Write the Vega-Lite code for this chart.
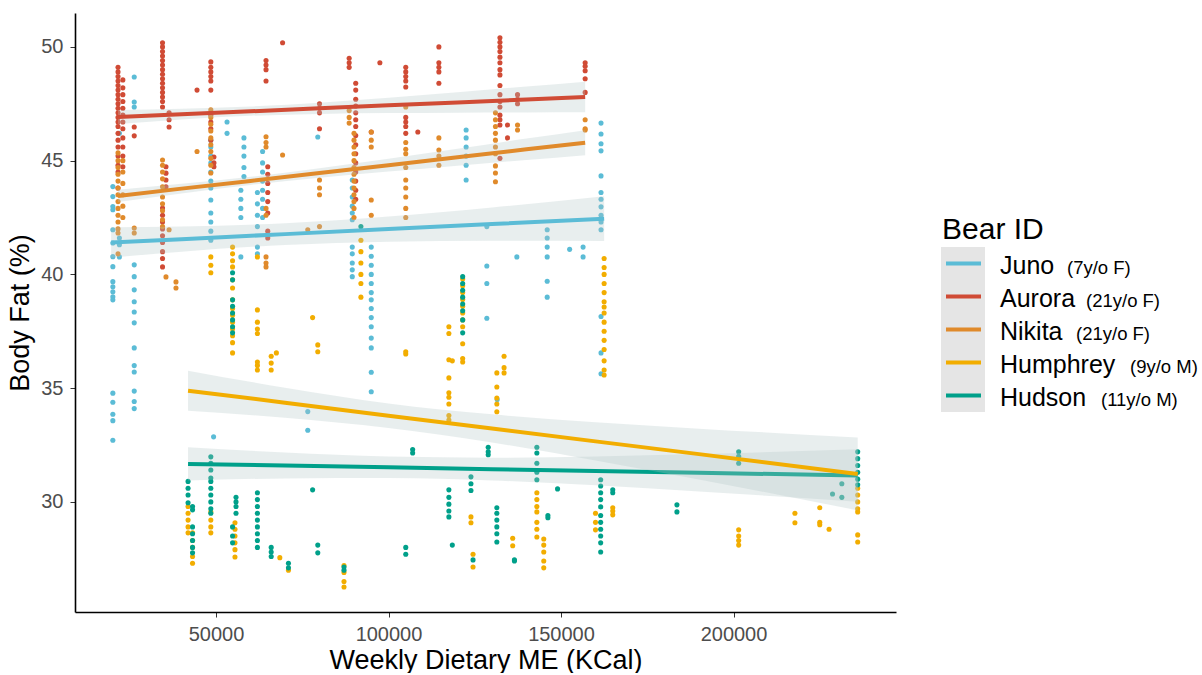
{
"$schema":"https://vega.github.io/schema/vega-lite/v6.json",
"padding":{"left":6,"top":13,"right":0,"bottom":0},
"spacing":45,
"config":{"font":"Liberation Sans","view":{"stroke":null},
 "axis":{"grid":false,"tickSize":5,"tickColor":"#333333","domainColor":"#000000","domainWidth":1.6,"labelFontSize":20,"labelColor":"#4D4D4D","titleFontSize":27,"titleFontWeight":"normal","titleColor":"#000000"}},
"datasets":{
"points":[
{"bear":"Juno","me":20100,"fat":43.86},{"bear":"Juno","me":20100,"fat":43.42},{"bear":"Juno","me":20100,"fat":42.98},{"bear":"Juno","me":20100,"fat":42.84},{"bear":"Juno","me":20100,"fat":41.96},{"bear":"Juno","me":20100,"fat":41.38},{"bear":"Juno","me":20100,"fat":40.78},{"bear":"Juno","me":20100,"fat":40.34},{"bear":"Juno","me":20100,"fat":39.68},{"bear":"Juno","me":20100,"fat":39.46},{"bear":"Juno","me":20100,"fat":39.24},{"bear":"Juno","me":20100,"fat":39.02},{"bear":"Juno","me":20100,"fat":38.88},{"bear":"Juno","me":20100,"fat":34.78},{"bear":"Juno","me":20100,"fat":34.38},{"bear":"Juno","me":20100,"fat":33.85},{"bear":"Juno","me":20100,"fat":33.57},{"bear":"Juno","me":20100,"fat":32.71},
{"bear":"Juno","me":22000,"fat":46.2},{"bear":"Juno","me":22000,"fat":41.6},{"bear":"Juno","me":22000,"fat":41.3},{"bear":"Juno","me":22000,"fat":40.77},
{"bear":"Juno","me":26300,"fat":48.68},{"bear":"Juno","me":26300,"fat":47.58},{"bear":"Juno","me":26300,"fat":47.36},{"bear":"Juno","me":26300,"fat":40.42},{"bear":"Juno","me":26300,"fat":39.9},{"bear":"Juno","me":26300,"fat":39.32},{"bear":"Juno","me":26300,"fat":38.8},{"bear":"Juno","me":26300,"fat":38.35},{"bear":"Juno","me":26300,"fat":37.87},{"bear":"Juno","me":26300,"fat":36.77},{"bear":"Juno","me":26300,"fat":35.99},{"bear":"Juno","me":26300,"fat":35.71},{"bear":"Juno","me":26300,"fat":34.87},{"bear":"Juno","me":26300,"fat":34.41},{"bear":"Juno","me":26300,"fat":34.1},
{"bear":"Juno","me":48500,"fat":45.9},{"bear":"Juno","me":48500,"fat":45.6},{"bear":"Juno","me":48500,"fat":45.2},{"bear":"Juno","me":48500,"fat":44.9},{"bear":"Juno","me":48500,"fat":44.5},{"bear":"Juno","me":48500,"fat":44.1},{"bear":"Juno","me":48500,"fat":43.8},{"bear":"Juno","me":48500,"fat":43.27},{"bear":"Juno","me":48500,"fat":42.7},{"bear":"Juno","me":48500,"fat":42.3},{"bear":"Juno","me":48500,"fat":41.9},{"bear":"Juno","me":48500,"fat":41.5},
{"bear":"Juno","me":49300,"fat":32.86},{"bear":"Juno","me":53200,"fat":46.7},{"bear":"Juno","me":53200,"fat":46.2},
{"bear":"Juno","me":57200,"fat":43.7},{"bear":"Juno","me":57200,"fat":43.3},{"bear":"Juno","me":57200,"fat":42.9},{"bear":"Juno","me":57200,"fat":42.5},{"bear":"Juno","me":57200,"fat":40.77},
{"bear":"Juno","me":58100,"fat":46.0},{"bear":"Juno","me":58100,"fat":45.6},{"bear":"Juno","me":58100,"fat":45.2},{"bear":"Juno","me":58100,"fat":44.7},{"bear":"Juno","me":58100,"fat":44.3},
{"bear":"Juno","me":62000,"fat":43.6},{"bear":"Juno","me":62000,"fat":43.1},{"bear":"Juno","me":62000,"fat":42.6},{"bear":"Juno","me":62000,"fat":42.1},{"bear":"Juno","me":62000,"fat":41.2},{"bear":"Juno","me":62000,"fat":40.9},
{"bear":"Juno","me":63500,"fat":45.4},{"bear":"Juno","me":63500,"fat":44.9},{"bear":"Juno","me":63500,"fat":44.5},{"bear":"Juno","me":63500,"fat":44.1},{"bear":"Juno","me":63500,"fat":43.7},{"bear":"Juno","me":63500,"fat":43.3},{"bear":"Juno","me":63500,"fat":42.9},{"bear":"Juno","me":63500,"fat":42.5},
{"bear":"Juno","me":76600,"fat":33.97},{"bear":"Juno","me":76600,"fat":33.15},{"bear":"Juno","me":79500,"fat":46.04},
{"bear":"Juno","me":89500,"fat":44.15},{"bear":"Juno","me":89500,"fat":43.8},{"bear":"Juno","me":89500,"fat":43.4},{"bear":"Juno","me":89500,"fat":43.0},{"bear":"Juno","me":89500,"fat":42.7},{"bear":"Juno","me":89500,"fat":42.4},{"bear":"Juno","me":89500,"fat":41.2},{"bear":"Juno","me":89500,"fat":40.9},{"bear":"Juno","me":89500,"fat":40.5},{"bear":"Juno","me":89500,"fat":40.2},{"bear":"Juno","me":89500,"fat":39.9},
{"bear":"Juno","me":95000,"fat":41.2},{"bear":"Juno","me":95000,"fat":40.8},{"bear":"Juno","me":95000,"fat":40.4},{"bear":"Juno","me":95000,"fat":40.0},{"bear":"Juno","me":95000,"fat":39.6},{"bear":"Juno","me":95000,"fat":39.2},{"bear":"Juno","me":95000,"fat":38.88},{"bear":"Juno","me":95000,"fat":38.5},{"bear":"Juno","me":95000,"fat":38.1},{"bear":"Juno","me":95000,"fat":37.7},{"bear":"Juno","me":95000,"fat":37.2},{"bear":"Juno","me":95000,"fat":36.77},{"bear":"Juno","me":95000,"fat":35.7},{"bear":"Juno","me":95000,"fat":34.84},
{"bear":"Juno","me":122500,"fat":46.35},{"bear":"Juno","me":122500,"fat":46.0},{"bear":"Juno","me":122500,"fat":45.6},{"bear":"Juno","me":122500,"fat":45.2},{"bear":"Juno","me":122500,"fat":44.8},{"bear":"Juno","me":122500,"fat":44.15},
{"bear":"Juno","me":128500,"fat":42.1},{"bear":"Juno","me":128500,"fat":40.37},{"bear":"Juno","me":128500,"fat":39.6},{"bear":"Juno","me":128500,"fat":38.07},
{"bear":"Juno","me":131500,"fat":34.5},{"bear":"Juno","me":137200,"fat":40.77},
{"bear":"Juno","me":146000,"fat":41.96},{"bear":"Juno","me":146000,"fat":41.6},{"bear":"Juno","me":146000,"fat":41.2},{"bear":"Juno","me":146000,"fat":40.77},{"bear":"Juno","me":146000,"fat":39.7},{"bear":"Juno","me":146000,"fat":39.0},
{"bear":"Juno","me":152500,"fat":41.1},{"bear":"Juno","me":156400,"fat":41.2},{"bear":"Juno","me":156400,"fat":40.77},
{"bear":"Juno","me":161600,"fat":46.65},{"bear":"Juno","me":161600,"fat":46.17},{"bear":"Juno","me":161600,"fat":45.74},{"bear":"Juno","me":161600,"fat":45.43},{"bear":"Juno","me":161600,"fat":44.33},{"bear":"Juno","me":161600,"fat":43.6},{"bear":"Juno","me":161600,"fat":43.3},{"bear":"Juno","me":161600,"fat":42.97},{"bear":"Juno","me":161600,"fat":42.6},{"bear":"Juno","me":161600,"fat":42.3},{"bear":"Juno","me":161600,"fat":41.96},{"bear":"Juno","me":161600,"fat":38.15},{"bear":"Juno","me":161600,"fat":36.55},{"bear":"Juno","me":161600,"fat":35.63},
{"bear":"Aurora","me":21600,"fat":49.1},{"bear":"Aurora","me":21600,"fat":48.9},{"bear":"Aurora","me":21600,"fat":48.7},{"bear":"Aurora","me":21600,"fat":48.5},{"bear":"Aurora","me":21600,"fat":48.3},{"bear":"Aurora","me":21600,"fat":48.1},{"bear":"Aurora","me":21600,"fat":47.9},{"bear":"Aurora","me":21600,"fat":47.7},{"bear":"Aurora","me":21600,"fat":47.5},{"bear":"Aurora","me":21600,"fat":47.3},{"bear":"Aurora","me":21600,"fat":47.1},{"bear":"Aurora","me":21600,"fat":46.9},{"bear":"Aurora","me":21600,"fat":46.7},{"bear":"Aurora","me":21600,"fat":46.5},{"bear":"Aurora","me":21600,"fat":46.2},{"bear":"Aurora","me":21600,"fat":45.9},{"bear":"Aurora","me":21600,"fat":45.6},{"bear":"Aurora","me":21600,"fat":45.2},{"bear":"Aurora","me":21600,"fat":44.8},{"bear":"Aurora","me":21600,"fat":44.5},{"bear":"Aurora","me":21600,"fat":43.8},
{"bear":"Aurora","me":23000,"fat":48.55},{"bear":"Aurora","me":23000,"fat":48.2},{"bear":"Aurora","me":23000,"fat":47.9},{"bear":"Aurora","me":23000,"fat":47.6},{"bear":"Aurora","me":23000,"fat":47.3},{"bear":"Aurora","me":23000,"fat":47.0},{"bear":"Aurora","me":23000,"fat":46.7},{"bear":"Aurora","me":23000,"fat":46.4},{"bear":"Aurora","me":23000,"fat":46.0},{"bear":"Aurora","me":23000,"fat":45.6},{"bear":"Aurora","me":23000,"fat":45.2},{"bear":"Aurora","me":23000,"fat":44.73},
{"bear":"Aurora","me":26300,"fat":46.48},{"bear":"Aurora","me":26300,"fat":46.09},
{"bear":"Aurora","me":34500,"fat":50.18},{"bear":"Aurora","me":34500,"fat":50.0},{"bear":"Aurora","me":34500,"fat":49.8},{"bear":"Aurora","me":34500,"fat":49.6},{"bear":"Aurora","me":34500,"fat":49.4},{"bear":"Aurora","me":34500,"fat":49.2},{"bear":"Aurora","me":34500,"fat":49.0},{"bear":"Aurora","me":34500,"fat":48.8},{"bear":"Aurora","me":34500,"fat":48.6},{"bear":"Aurora","me":34500,"fat":48.4},{"bear":"Aurora","me":34500,"fat":48.2},{"bear":"Aurora","me":34500,"fat":48.0},{"bear":"Aurora","me":34500,"fat":47.8},{"bear":"Aurora","me":34500,"fat":47.6},{"bear":"Aurora","me":34500,"fat":47.36},{"bear":"Aurora","me":34500,"fat":42.92},{"bear":"Aurora","me":34500,"fat":42.6},{"bear":"Aurora","me":34500,"fat":42.3},{"bear":"Aurora","me":34500,"fat":42.0},{"bear":"Aurora","me":34500,"fat":41.7},{"bear":"Aurora","me":34500,"fat":41.4},{"bear":"Aurora","me":34500,"fat":41.0},{"bear":"Aurora","me":34500,"fat":40.7},{"bear":"Aurora","me":34500,"fat":40.33},
{"bear":"Aurora","me":35500,"fat":44.73},{"bear":"Aurora","me":35500,"fat":44.45},{"bear":"Aurora","me":35500,"fat":44.15},{"bear":"Aurora","me":35500,"fat":43.85},
{"bear":"Aurora","me":36400,"fat":47.1},{"bear":"Aurora","me":36400,"fat":46.8},{"bear":"Aurora","me":36400,"fat":46.48},{"bear":"Aurora","me":44500,"fat":48.1},
{"bear":"Aurora","me":48500,"fat":49.34},{"bear":"Aurora","me":48500,"fat":49.1},{"bear":"Aurora","me":48500,"fat":48.9},{"bear":"Aurora","me":48500,"fat":48.7},{"bear":"Aurora","me":48500,"fat":48.5},{"bear":"Aurora","me":48500,"fat":48.1},{"bear":"Aurora","me":48500,"fat":47.0},{"bear":"Aurora","me":48500,"fat":46.7},{"bear":"Aurora","me":48500,"fat":46.4},{"bear":"Aurora","me":48500,"fat":45.9},
{"bear":"Aurora","me":49400,"fat":45.16},{"bear":"Aurora","me":49400,"fat":44.9},{"bear":"Aurora","me":49400,"fat":44.73},
{"bear":"Aurora","me":64500,"fat":49.4},{"bear":"Aurora","me":64500,"fat":49.2},{"bear":"Aurora","me":64500,"fat":49.0},{"bear":"Aurora","me":64500,"fat":48.5},
{"bear":"Aurora","me":65000,"fat":44.73},{"bear":"Aurora","me":65000,"fat":44.4},{"bear":"Aurora","me":65000,"fat":44.0},{"bear":"Aurora","me":65000,"fat":43.6},{"bear":"Aurora","me":65000,"fat":43.2},{"bear":"Aurora","me":65000,"fat":42.7},{"bear":"Aurora","me":65000,"fat":41.9},{"bear":"Aurora","me":65000,"fat":41.6},
{"bear":"Aurora","me":69300,"fat":50.18},
{"bear":"Aurora","me":80000,"fat":47.5},{"bear":"Aurora","me":80000,"fat":47.3},{"bear":"Aurora","me":80000,"fat":47.1},{"bear":"Aurora","me":80000,"fat":46.4},
{"bear":"Aurora","me":88600,"fat":49.5},{"bear":"Aurora","me":88600,"fat":49.3},{"bear":"Aurora","me":88600,"fat":49.1},
{"bear":"Aurora","me":90500,"fat":48.4},{"bear":"Aurora","me":90500,"fat":48.1},{"bear":"Aurora","me":90500,"fat":47.7},{"bear":"Aurora","me":90500,"fat":47.4},{"bear":"Aurora","me":90500,"fat":47.1},{"bear":"Aurora","me":90500,"fat":46.8},{"bear":"Aurora","me":90500,"fat":46.5},{"bear":"Aurora","me":90500,"fat":46.1},{"bear":"Aurora","me":90500,"fat":45.7},{"bear":"Aurora","me":90500,"fat":45.3},{"bear":"Aurora","me":90500,"fat":44.9},{"bear":"Aurora","me":90500,"fat":44.5},{"bear":"Aurora","me":90500,"fat":44.1},{"bear":"Aurora","me":90500,"fat":43.7},{"bear":"Aurora","me":90500,"fat":43.3},
{"bear":"Aurora","me":95000,"fat":46.26},{"bear":"Aurora","me":97500,"fat":49.3},
{"bear":"Aurora","me":105000,"fat":49.1},{"bear":"Aurora","me":105000,"fat":48.9},{"bear":"Aurora","me":105000,"fat":48.7},{"bear":"Aurora","me":105000,"fat":48.5},{"bear":"Aurora","me":105000,"fat":48.24},{"bear":"Aurora","me":105000,"fat":46.9},{"bear":"Aurora","me":105000,"fat":46.7},{"bear":"Aurora","me":105000,"fat":46.5},{"bear":"Aurora","me":105000,"fat":46.2},
{"bear":"Aurora","me":108500,"fat":46.26},
{"bear":"Aurora","me":114600,"fat":50.0},{"bear":"Aurora","me":114600,"fat":49.3},{"bear":"Aurora","me":114600,"fat":49.1},{"bear":"Aurora","me":114600,"fat":48.9},{"bear":"Aurora","me":114600,"fat":48.4},
{"bear":"Aurora","me":132300,"fat":50.4},{"bear":"Aurora","me":132300,"fat":50.2},{"bear":"Aurora","me":132300,"fat":50.0},{"bear":"Aurora","me":132300,"fat":49.8},{"bear":"Aurora","me":132300,"fat":49.55},{"bear":"Aurora","me":132300,"fat":49.3},{"bear":"Aurora","me":132300,"fat":49.0},{"bear":"Aurora","me":132300,"fat":48.77},{"bear":"Aurora","me":132300,"fat":48.3},{"bear":"Aurora","me":132300,"fat":47.9},{"bear":"Aurora","me":132300,"fat":47.6},{"bear":"Aurora","me":132300,"fat":47.36},{"bear":"Aurora","me":132300,"fat":47.0},{"bear":"Aurora","me":132300,"fat":46.8},{"bear":"Aurora","me":132300,"fat":46.57},{"bear":"Aurora","me":132300,"fat":45.1},
{"bear":"Aurora","me":134500,"fat":46.57},{"bear":"Aurora","me":134500,"fat":46.0},
{"bear":"Aurora","me":137400,"fat":47.9},{"bear":"Aurora","me":137400,"fat":47.7},{"bear":"Aurora","me":137400,"fat":47.5},
{"bear":"Aurora","me":157000,"fat":49.3},{"bear":"Aurora","me":157000,"fat":49.15},{"bear":"Aurora","me":157000,"fat":48.95},{"bear":"Aurora","me":157000,"fat":48.6},{"bear":"Aurora","me":157000,"fat":48.0},
{"bear":"Nikita","me":21600,"fat":45.34},{"bear":"Nikita","me":21600,"fat":45.0},{"bear":"Nikita","me":21600,"fat":44.7},{"bear":"Nikita","me":21600,"fat":44.4},{"bear":"Nikita","me":21600,"fat":44.1},{"bear":"Nikita","me":21600,"fat":43.8},{"bear":"Nikita","me":21600,"fat":43.5},{"bear":"Nikita","me":21600,"fat":43.2},{"bear":"Nikita","me":21600,"fat":42.9},{"bear":"Nikita","me":21600,"fat":42.6},{"bear":"Nikita","me":21600,"fat":42.3},{"bear":"Nikita","me":21600,"fat":42.0},{"bear":"Nikita","me":21600,"fat":41.82},{"bear":"Nikita","me":21600,"fat":40.9},
{"bear":"Nikita","me":23000,"fat":45.0},{"bear":"Nikita","me":23000,"fat":44.5},{"bear":"Nikita","me":23000,"fat":44.0},{"bear":"Nikita","me":23000,"fat":43.5},{"bear":"Nikita","me":23000,"fat":43.0},{"bear":"Nikita","me":23000,"fat":42.5},
{"bear":"Nikita","me":26300,"fat":42.04},{"bear":"Nikita","me":26300,"fat":41.82},
{"bear":"Nikita","me":34500,"fat":45.03},{"bear":"Nikita","me":34500,"fat":44.8},{"bear":"Nikita","me":34500,"fat":44.5},{"bear":"Nikita","me":34500,"fat":44.2},{"bear":"Nikita","me":34500,"fat":43.85},{"bear":"Nikita","me":34500,"fat":43.4},{"bear":"Nikita","me":34500,"fat":43.1},{"bear":"Nikita","me":34500,"fat":42.8},{"bear":"Nikita","me":34500,"fat":42.4},{"bear":"Nikita","me":34500,"fat":42.1},
{"bear":"Nikita","me":35500,"fat":39.89},{"bear":"Nikita","me":36400,"fat":41.96},{"bear":"Nikita","me":38400,"fat":39.67},{"bear":"Nikita","me":38400,"fat":39.4},{"bear":"Nikita","me":44500,"fat":45.4},
{"bear":"Nikita","me":48500,"fat":47.23},{"bear":"Nikita","me":48500,"fat":46.9},{"bear":"Nikita","me":48500,"fat":46.6},{"bear":"Nikita","me":48500,"fat":46.3},{"bear":"Nikita","me":48500,"fat":46.0},{"bear":"Nikita","me":48500,"fat":45.7},{"bear":"Nikita","me":48500,"fat":45.4},{"bear":"Nikita","me":48500,"fat":45.1},{"bear":"Nikita","me":48500,"fat":44.8},{"bear":"Nikita","me":48500,"fat":44.46},
{"bear":"Nikita","me":64500,"fat":46.05},{"bear":"Nikita","me":64500,"fat":45.8},{"bear":"Nikita","me":64500,"fat":45.6},{"bear":"Nikita","me":64500,"fat":42.9},{"bear":"Nikita","me":64500,"fat":42.6},{"bear":"Nikita","me":64500,"fat":40.77},{"bear":"Nikita","me":64500,"fat":40.5},{"bear":"Nikita","me":64500,"fat":40.33},
{"bear":"Nikita","me":69300,"fat":45.25},{"bear":"Nikita","me":76600,"fat":41.96},
{"bear":"Nikita","me":80000,"fat":44.15},{"bear":"Nikita","me":80000,"fat":43.8},{"bear":"Nikita","me":80000,"fat":43.5},{"bear":"Nikita","me":80000,"fat":42.1},
{"bear":"Nikita","me":88600,"fat":47.2},{"bear":"Nikita","me":88600,"fat":46.9},{"bear":"Nikita","me":88600,"fat":46.65},
{"bear":"Nikita","me":90000,"fat":46.2},{"bear":"Nikita","me":90000,"fat":45.9},{"bear":"Nikita","me":90000,"fat":45.6},{"bear":"Nikita","me":90000,"fat":45.3},{"bear":"Nikita","me":90000,"fat":45.0},{"bear":"Nikita","me":90000,"fat":44.7},{"bear":"Nikita","me":90000,"fat":44.4},{"bear":"Nikita","me":90000,"fat":44.1},{"bear":"Nikita","me":90000,"fat":43.8},{"bear":"Nikita","me":90000,"fat":43.5},{"bear":"Nikita","me":90000,"fat":43.2},{"bear":"Nikita","me":90000,"fat":42.9},{"bear":"Nikita","me":90000,"fat":42.5},
{"bear":"Nikita","me":95000,"fat":46.26},{"bear":"Nikita","me":95000,"fat":45.9},{"bear":"Nikita","me":95000,"fat":45.6},{"bear":"Nikita","me":95000,"fat":43.27},{"bear":"Nikita","me":95000,"fat":42.6},
{"bear":"Nikita","me":105000,"fat":47.36},{"bear":"Nikita","me":105000,"fat":45.8},{"bear":"Nikita","me":105000,"fat":45.5},{"bear":"Nikita","me":105000,"fat":45.3},{"bear":"Nikita","me":105000,"fat":44.7},{"bear":"Nikita","me":105000,"fat":44.15},{"bear":"Nikita","me":105000,"fat":43.8},{"bear":"Nikita","me":105000,"fat":43.4},{"bear":"Nikita","me":105000,"fat":42.9},{"bear":"Nikita","me":105000,"fat":42.5},
{"bear":"Nikita","me":114600,"fat":46.0},{"bear":"Nikita","me":114600,"fat":45.47},{"bear":"Nikita","me":114600,"fat":45.2},{"bear":"Nikita","me":114600,"fat":44.8},
{"bear":"Nikita","me":131000,"fat":47.1},{"bear":"Nikita","me":131000,"fat":46.8},{"bear":"Nikita","me":131000,"fat":46.5},{"bear":"Nikita","me":131000,"fat":46.2},{"bear":"Nikita","me":131000,"fat":45.9},{"bear":"Nikita","me":131000,"fat":45.6},{"bear":"Nikita","me":131000,"fat":45.3},{"bear":"Nikita","me":131000,"fat":44.77},{"bear":"Nikita","me":131000,"fat":44.46},{"bear":"Nikita","me":131000,"fat":44.07},
{"bear":"Nikita","me":137400,"fat":46.57},{"bear":"Nikita","me":137400,"fat":46.35},
{"bear":"Nikita","me":157000,"fat":46.8},{"bear":"Nikita","me":157000,"fat":46.4},{"bear":"Nikita","me":157000,"fat":46.35},
{"bear":"Humphrey","me":41900,"fat":29.8},{"bear":"Humphrey","me":41900,"fat":29.5},{"bear":"Humphrey","me":41900,"fat":29.2},{"bear":"Humphrey","me":41900,"fat":28.9},{"bear":"Humphrey","me":41900,"fat":28.64},
{"bear":"Humphrey","me":43200,"fat":28.64},{"bear":"Humphrey","me":43200,"fat":28.3},{"bear":"Humphrey","me":43200,"fat":28.0},{"bear":"Humphrey","me":43200,"fat":27.6},{"bear":"Humphrey","me":43200,"fat":27.3},
{"bear":"Humphrey","me":48500,"fat":40.77},{"bear":"Humphrey","me":48500,"fat":40.4},{"bear":"Humphrey","me":48500,"fat":40.07},{"bear":"Humphrey","me":48500,"fat":29.56},{"bear":"Humphrey","me":48500,"fat":29.2},{"bear":"Humphrey","me":48500,"fat":28.9},{"bear":"Humphrey","me":48500,"fat":28.64},
{"bear":"Humphrey","me":54800,"fat":41.2},{"bear":"Humphrey","me":54800,"fat":40.9},{"bear":"Humphrey","me":54800,"fat":40.6},{"bear":"Humphrey","me":54800,"fat":40.33},{"bear":"Humphrey","me":54800,"fat":39.76},{"bear":"Humphrey","me":54800,"fat":39.4},{"bear":"Humphrey","me":54800,"fat":38.88},{"bear":"Humphrey","me":54800,"fat":38.5},{"bear":"Humphrey","me":54800,"fat":38.2},{"bear":"Humphrey","me":54800,"fat":37.9},{"bear":"Humphrey","me":54800,"fat":37.6},{"bear":"Humphrey","me":54800,"fat":37.3},{"bear":"Humphrey","me":54800,"fat":37.0},{"bear":"Humphrey","me":54800,"fat":36.55},
{"bear":"Humphrey","me":55500,"fat":29.08},{"bear":"Humphrey","me":55500,"fat":28.8},{"bear":"Humphrey","me":55500,"fat":28.5},{"bear":"Humphrey","me":55500,"fat":28.2},{"bear":"Humphrey","me":55500,"fat":27.9},{"bear":"Humphrey","me":55500,"fat":27.58},
{"bear":"Humphrey","me":62000,"fat":40.77},{"bear":"Humphrey","me":62000,"fat":38.44},{"bear":"Humphrey","me":62000,"fat":37.9},{"bear":"Humphrey","me":62000,"fat":37.6},{"bear":"Humphrey","me":62000,"fat":37.4},{"bear":"Humphrey","me":62000,"fat":36.15},{"bear":"Humphrey","me":62000,"fat":36.0},{"bear":"Humphrey","me":62000,"fat":35.8},
{"bear":"Humphrey","me":66000,"fat":36.4},{"bear":"Humphrey","me":66000,"fat":36.1},{"bear":"Humphrey","me":66000,"fat":35.8},{"bear":"Humphrey","me":67500,"fat":36.55},
{"bear":"Humphrey","me":68500,"fat":27.55},{"bear":"Humphrey","me":71000,"fat":27.0},{"bear":"Humphrey","me":78000,"fat":38.1},{"bear":"Humphrey","me":79500,"fat":36.9},{"bear":"Humphrey","me":79500,"fat":36.6},
{"bear":"Humphrey","me":87100,"fat":27.2},{"bear":"Humphrey","me":87100,"fat":26.9},{"bear":"Humphrey","me":87100,"fat":26.5},{"bear":"Humphrey","me":87100,"fat":26.26},
{"bear":"Humphrey","me":92000,"fat":41.5},{"bear":"Humphrey","me":92000,"fat":41.0},{"bear":"Humphrey","me":92000,"fat":40.5},{"bear":"Humphrey","me":92000,"fat":40.0},{"bear":"Humphrey","me":92000,"fat":39.6},{"bear":"Humphrey","me":92000,"fat":39.0},
{"bear":"Humphrey","me":105000,"fat":36.6},{"bear":"Humphrey","me":105000,"fat":36.5},
{"bear":"Humphrey","me":117500,"fat":37.7},{"bear":"Humphrey","me":117500,"fat":37.4},{"bear":"Humphrey","me":117500,"fat":36.25},{"bear":"Humphrey","me":117500,"fat":35.45},{"bear":"Humphrey","me":117500,"fat":34.8},{"bear":"Humphrey","me":117500,"fat":34.6},{"bear":"Humphrey","me":117500,"fat":34.3},{"bear":"Humphrey","me":117500,"fat":33.8},{"bear":"Humphrey","me":117500,"fat":33.6},
{"bear":"Humphrey","me":118500,"fat":36.2},
{"bear":"Humphrey","me":121500,"fat":39.8},{"bear":"Humphrey","me":121500,"fat":39.5},{"bear":"Humphrey","me":121500,"fat":39.2},{"bear":"Humphrey","me":121500,"fat":38.9},{"bear":"Humphrey","me":121500,"fat":38.6},{"bear":"Humphrey","me":121500,"fat":38.3},{"bear":"Humphrey","me":121500,"fat":38.0},{"bear":"Humphrey","me":121500,"fat":37.7},{"bear":"Humphrey","me":121500,"fat":36.95},{"bear":"Humphrey","me":121500,"fat":36.3},{"bear":"Humphrey","me":121500,"fat":36.15},
{"bear":"Humphrey","me":123900,"fat":29.34},{"bear":"Humphrey","me":123900,"fat":29.08},{"bear":"Humphrey","me":124500,"fat":27.7},{"bear":"Humphrey","me":124500,"fat":27.14},
{"bear":"Humphrey","me":131400,"fat":35.67},{"bear":"Humphrey","me":131400,"fat":35.05},{"bear":"Humphrey","me":131400,"fat":34.57},{"bear":"Humphrey","me":131400,"fat":34.3},{"bear":"Humphrey","me":131400,"fat":33.96},
{"bear":"Humphrey","me":133500,"fat":36.4},{"bear":"Humphrey","me":133500,"fat":35.9},{"bear":"Humphrey","me":133500,"fat":35.67},
{"bear":"Humphrey","me":136000,"fat":28.4},{"bear":"Humphrey","me":136000,"fat":28.07},
{"bear":"Humphrey","me":143000,"fat":30.4},{"bear":"Humphrey","me":143000,"fat":30.1},{"bear":"Humphrey","me":143000,"fat":29.8},{"bear":"Humphrey","me":143000,"fat":29.56},{"bear":"Humphrey","me":143000,"fat":29.1},{"bear":"Humphrey","me":143000,"fat":28.8},{"bear":"Humphrey","me":143000,"fat":28.46},
{"bear":"Humphrey","me":145000,"fat":28.37},{"bear":"Humphrey","me":145000,"fat":28.1},{"bear":"Humphrey","me":145000,"fat":27.8},{"bear":"Humphrey","me":145000,"fat":27.4},{"bear":"Humphrey","me":145000,"fat":27.1},
{"bear":"Humphrey","me":160000,"fat":29.5},{"bear":"Humphrey","me":160000,"fat":29.1},{"bear":"Humphrey","me":160000,"fat":28.77},
{"bear":"Humphrey","me":162500,"fat":40.7},{"bear":"Humphrey","me":162500,"fat":40.3},{"bear":"Humphrey","me":162500,"fat":40.0},{"bear":"Humphrey","me":162500,"fat":39.6},{"bear":"Humphrey","me":162500,"fat":39.2},{"bear":"Humphrey","me":162500,"fat":38.8},{"bear":"Humphrey","me":162500,"fat":38.57},{"bear":"Humphrey","me":162500,"fat":38.3},{"bear":"Humphrey","me":162500,"fat":37.9},{"bear":"Humphrey","me":162500,"fat":37.5},{"bear":"Humphrey","me":162500,"fat":37.1},{"bear":"Humphrey","me":162500,"fat":36.7},{"bear":"Humphrey","me":162500,"fat":36.2},{"bear":"Humphrey","me":162500,"fat":35.8},{"bear":"Humphrey","me":162500,"fat":35.58},
{"bear":"Humphrey","me":165000,"fat":29.74},{"bear":"Humphrey","me":165000,"fat":29.6},{"bear":"Humphrey","me":165000,"fat":29.43},
{"bear":"Humphrey","me":201500,"fat":28.77},{"bear":"Humphrey","me":201500,"fat":28.5},{"bear":"Humphrey","me":201500,"fat":28.3},{"bear":"Humphrey","me":201500,"fat":28.1},
{"bear":"Humphrey","me":217800,"fat":29.5},{"bear":"Humphrey","me":217800,"fat":29.08},
{"bear":"Humphrey","me":225000,"fat":29.74},{"bear":"Humphrey","me":225000,"fat":29.1},{"bear":"Humphrey","me":225000,"fat":29.0},{"bear":"Humphrey","me":227700,"fat":28.8},
{"bear":"Humphrey","me":236000,"fat":30.6},{"bear":"Humphrey","me":236000,"fat":30.3},{"bear":"Humphrey","me":236000,"fat":30.0},{"bear":"Humphrey","me":236000,"fat":29.7},{"bear":"Humphrey","me":236000,"fat":29.56},{"bear":"Humphrey","me":236000,"fat":28.55},{"bear":"Humphrey","me":236000,"fat":28.24},
{"bear":"Hudson","me":41900,"fat":30.9},{"bear":"Hudson","me":41900,"fat":30.6},{"bear":"Hudson","me":41900,"fat":30.3},{"bear":"Hudson","me":41900,"fat":29.96},
{"bear":"Hudson","me":43200,"fat":29.8},{"bear":"Hudson","me":43200,"fat":29.65},{"bear":"Hudson","me":43200,"fat":28.9},{"bear":"Hudson","me":43200,"fat":28.6},{"bear":"Hudson","me":43200,"fat":28.3},{"bear":"Hudson","me":43200,"fat":28.0},{"bear":"Hudson","me":43200,"fat":27.76},
{"bear":"Hudson","me":48500,"fat":31.98},{"bear":"Hudson","me":48500,"fat":31.7},{"bear":"Hudson","me":48500,"fat":31.4},{"bear":"Hudson","me":48500,"fat":31.05},{"bear":"Hudson","me":48500,"fat":30.9},{"bear":"Hudson","me":48500,"fat":30.6},{"bear":"Hudson","me":48500,"fat":30.3},{"bear":"Hudson","me":48500,"fat":30.0},{"bear":"Hudson","me":48500,"fat":29.7},{"bear":"Hudson","me":48500,"fat":29.5},
{"bear":"Hudson","me":54800,"fat":40.07},{"bear":"Hudson","me":54800,"fat":39.76},{"bear":"Hudson","me":54800,"fat":38.88},{"bear":"Hudson","me":54800,"fat":38.6},{"bear":"Hudson","me":54800,"fat":38.3},{"bear":"Hudson","me":54800,"fat":38.0},{"bear":"Hudson","me":54800,"fat":37.7},{"bear":"Hudson","me":54800,"fat":37.43},{"bear":"Hudson","me":54800,"fat":28.9},{"bear":"Hudson","me":54800,"fat":28.5},{"bear":"Hudson","me":54800,"fat":28.2},
{"bear":"Hudson","me":55800,"fat":30.2},{"bear":"Hudson","me":55800,"fat":30.0},{"bear":"Hudson","me":55800,"fat":29.8},{"bear":"Hudson","me":55800,"fat":29.5},
{"bear":"Hudson","me":62000,"fat":30.4},{"bear":"Hudson","me":62000,"fat":30.1},{"bear":"Hudson","me":62000,"fat":29.8},{"bear":"Hudson","me":62000,"fat":29.5},{"bear":"Hudson","me":62000,"fat":29.2},{"bear":"Hudson","me":62000,"fat":28.9},{"bear":"Hudson","me":62000,"fat":28.6},{"bear":"Hudson","me":62000,"fat":28.3},{"bear":"Hudson","me":62000,"fat":28.0},
{"bear":"Hudson","me":66000,"fat":28.0},{"bear":"Hudson","me":66000,"fat":27.8},{"bear":"Hudson","me":66000,"fat":27.6},
{"bear":"Hudson","me":71000,"fat":27.3},{"bear":"Hudson","me":71000,"fat":27.1},{"bear":"Hudson","me":78000,"fat":30.53},{"bear":"Hudson","me":79500,"fat":28.1},{"bear":"Hudson","me":79500,"fat":27.76},
{"bear":"Hudson","me":87100,"fat":27.14},{"bear":"Hudson","me":87100,"fat":27.0},{"bear":"Hudson","me":92000,"fat":42.1},
{"bear":"Hudson","me":105000,"fat":28.0},{"bear":"Hudson","me":105000,"fat":27.7},{"bear":"Hudson","me":107000,"fat":32.3},{"bear":"Hudson","me":107000,"fat":32.15},
{"bear":"Hudson","me":117500,"fat":30.53},{"bear":"Hudson","me":117500,"fat":30.2},{"bear":"Hudson","me":117500,"fat":29.9},{"bear":"Hudson","me":117500,"fat":29.6},{"bear":"Hudson","me":117500,"fat":29.34},
{"bear":"Hudson","me":118500,"fat":28.1},
{"bear":"Hudson","me":121500,"fat":39.9},{"bear":"Hudson","me":121500,"fat":39.6},{"bear":"Hudson","me":121500,"fat":39.3},{"bear":"Hudson","me":121500,"fat":39.0},{"bear":"Hudson","me":121500,"fat":38.7},{"bear":"Hudson","me":121500,"fat":38.4},{"bear":"Hudson","me":121500,"fat":38.0},{"bear":"Hudson","me":121500,"fat":37.43},
{"bear":"Hudson","me":123900,"fat":31.1},{"bear":"Hudson","me":123900,"fat":30.8},{"bear":"Hudson","me":123900,"fat":30.5},{"bear":"Hudson","me":124500,"fat":27.45},
{"bear":"Hudson","me":128900,"fat":32.4},{"bear":"Hudson","me":128900,"fat":32.2},{"bear":"Hudson","me":128900,"fat":32.07},
{"bear":"Hudson","me":131400,"fat":29.74},{"bear":"Hudson","me":131400,"fat":29.5},{"bear":"Hudson","me":131400,"fat":29.2},{"bear":"Hudson","me":131400,"fat":28.9},{"bear":"Hudson","me":131400,"fat":28.6},{"bear":"Hudson","me":131400,"fat":28.24},
{"bear":"Hudson","me":136500,"fat":27.45},{"bear":"Hudson","me":136500,"fat":27.4},
{"bear":"Hudson","me":143000,"fat":32.4},{"bear":"Hudson","me":143000,"fat":32.15},{"bear":"Hudson","me":143000,"fat":31.7},{"bear":"Hudson","me":143000,"fat":31.3},{"bear":"Hudson","me":143000,"fat":30.97},
{"bear":"Hudson","me":146200,"fat":29.4},{"bear":"Hudson","me":146200,"fat":29.3},{"bear":"Hudson","me":149000,"fat":30.57},
{"bear":"Hudson","me":161500,"fat":30.97},{"bear":"Hudson","me":161500,"fat":30.7},{"bear":"Hudson","me":161500,"fat":30.4},{"bear":"Hudson","me":161500,"fat":30.1},{"bear":"Hudson","me":161500,"fat":29.78},{"bear":"Hudson","me":161500,"fat":29.4},{"bear":"Hudson","me":161500,"fat":29.1},{"bear":"Hudson","me":161500,"fat":28.8},{"bear":"Hudson","me":161500,"fat":28.5},{"bear":"Hudson","me":161500,"fat":28.2},{"bear":"Hudson","me":161500,"fat":27.8},
{"bear":"Hudson","me":165000,"fat":30.53},{"bear":"Hudson","me":165000,"fat":30.4},
{"bear":"Hudson","me":183600,"fat":29.87},{"bear":"Hudson","me":183600,"fat":29.56},
{"bear":"Hudson","me":201500,"fat":32.2},{"bear":"Hudson","me":201500,"fat":32.0},{"bear":"Hudson","me":201500,"fat":31.7},
{"bear":"Hudson","me":228700,"fat":30.35},{"bear":"Hudson","me":231400,"fat":30.8},{"bear":"Hudson","me":231400,"fat":30.2},
{"bear":"Hudson","me":236000,"fat":32.2},{"bear":"Hudson","me":236000,"fat":31.9},{"bear":"Hudson","me":236000,"fat":31.6},{"bear":"Hudson","me":236000,"fat":31.3},{"bear":"Hudson","me":236000,"fat":31.0},{"bear":"Hudson","me":236000,"fat":30.75}
],
"fits":[
{"bear":"Juno","me":19600,"fit":41.40,"lo":40.73,"hi":42.07},{"bear":"Juno","me":40000,"fit":41.55,"lo":41.00,"hi":42.10},{"bear":"Juno","me":70000,"fit":41.77,"lo":41.29,"hi":42.25},{"bear":"Juno","me":100000,"fit":41.99,"lo":41.44,"hi":42.54},{"bear":"Juno","me":130000,"fit":42.21,"lo":41.48,"hi":42.94},{"bear":"Juno","me":162500,"fit":42.45,"lo":41.47,"hi":43.43},
{"bear":"Aurora","me":21600,"fit":46.92,"lo":46.61,"hi":47.23},{"bear":"Aurora","me":40000,"fit":47.04,"lo":46.81,"hi":47.28},{"bear":"Aurora","me":60000,"fit":47.17,"lo":46.97,"hi":47.38},{"bear":"Aurora","me":80000,"fit":47.30,"lo":47.05,"hi":47.55},{"bear":"Aurora","me":100000,"fit":47.43,"lo":47.09,"hi":47.77},{"bear":"Aurora","me":120000,"fit":47.56,"lo":47.11,"hi":48.01},{"bear":"Aurora","me":140000,"fit":47.69,"lo":47.12,"hi":48.26},{"bear":"Aurora","me":157000,"fit":47.80,"lo":47.13,"hi":48.47},
{"bear":"Nikita","me":21600,"fit":43.45,"lo":43.18,"hi":43.72},{"bear":"Nikita","me":40000,"fit":43.77,"lo":43.56,"hi":43.98},{"bear":"Nikita","me":60000,"fit":44.11,"lo":43.93,"hi":44.29},{"bear":"Nikita","me":80000,"fit":44.46,"lo":44.25,"hi":44.67},{"bear":"Nikita","me":100000,"fit":44.80,"lo":44.52,"hi":45.08},{"bear":"Nikita","me":120000,"fit":45.15,"lo":44.78,"hi":45.52},{"bear":"Nikita","me":140000,"fit":45.50,"lo":45.03,"hi":45.97},{"bear":"Nikita","me":157000,"fit":45.79,"lo":45.24,"hi":46.34},
{"bear":"Hudson","me":41900,"fit":31.67,"lo":30.94,"hi":32.40},{"bear":"Hudson","me":70000,"fit":31.60,"lo":31.03,"hi":32.17},{"bear":"Hudson","me":100000,"fit":31.52,"lo":31.05,"hi":31.99},{"bear":"Hudson","me":130000,"fit":31.44,"lo":30.94,"hi":31.94},{"bear":"Hudson","me":160000,"fit":31.36,"lo":30.73,"hi":31.99},{"bear":"Hudson","me":190000,"fit":31.28,"lo":30.46,"hi":32.10},{"bear":"Hudson","me":236000,"fit":31.16,"lo":30.01,"hi":32.31},
{"bear":"Humphrey","me":41900,"fit":34.89,"lo":34.01,"hi":35.77},{"bear":"Humphrey","me":70000,"fit":34.36,"lo":33.70,"hi":35.02},{"bear":"Humphrey","me":100000,"fit":33.79,"lo":33.25,"hi":34.33},{"bear":"Humphrey","me":130000,"fit":33.23,"lo":32.61,"hi":33.85},{"bear":"Humphrey","me":160000,"fit":32.66,"lo":31.82,"hi":33.50},{"bear":"Humphrey","me":190000,"fit":32.10,"lo":30.98,"hi":33.22},{"bear":"Humphrey","me":236000,"fit":31.23,"lo":29.63,"hi":32.83}
],
"legend":[
{"bear":"Juno","age":"(7y/o F)"},{"bear":"Aurora","age":"(21y/o F)"},{"bear":"Nikita","age":"(21y/o F)"},{"bear":"Humphrey","age":"(9y/o M)"},{"bear":"Hudson","age":"(11y/o M)"}
]
},
"hconcat":[
{
"width":821,"height":599,
"layer":[
{"data":{"name":"points"},
 "mark":{"type":"circle","size":26,"opacity":1},
 "encoding":{
  "x":{"field":"me","type":"quantitative","scale":{"domain":[9130,247100],"nice":false,"zero":false},
   "axis":{"title":"Weekly Dietary ME (KCal)","values":[50000,100000,150000,200000],"format":"d","labelPadding":7,"titlePadding":3}},
  "y":{"field":"fat","type":"quantitative","scale":{"domain":[25.16,51.49],"nice":false,"zero":false},
   "axis":{"title":"Body Fat (%)","values":[30,35,40,45,50],"labelPadding":7,"titlePadding":6}},
  "color":{"field":"bear","type":"nominal","scale":{"domain":["Juno","Aurora","Nikita","Humphrey","Hudson"],"range":["#5BBCD6","#D04B35","#E08A2B","#F2AD00","#00A08A"]},"legend":null}
 }},
{"data":{"name":"fits"},"transform":[{"filter":"datum.bear != 'Humphrey'"}],
 "mark":{"type":"area","color":"#B4C6C6","opacity":0.3,"interpolate":"monotone"},
 "encoding":{"x":{"field":"me","type":"quantitative"},"y":{"field":"lo","type":"quantitative"},"y2":{"field":"hi"},"detail":{"field":"bear","type":"nominal"}}},
{"data":{"name":"fits"},"transform":[{"filter":"datum.bear != 'Humphrey'"}],
 "mark":{"type":"line","strokeWidth":4},
 "encoding":{"x":{"field":"me","type":"quantitative"},"y":{"field":"fit","type":"quantitative"},"color":{"field":"bear","type":"nominal","legend":null}}},
{"data":{"name":"fits"},"transform":[{"filter":"datum.bear == 'Humphrey'"}],
 "mark":{"type":"area","color":"#B4C6C6","opacity":0.3,"interpolate":"monotone"},
 "encoding":{"x":{"field":"me","type":"quantitative"},"y":{"field":"lo","type":"quantitative"},"y2":{"field":"hi"}}},
{"data":{"name":"fits"},"transform":[{"filter":"datum.bear == 'Humphrey'"}],
 "mark":{"type":"line","strokeWidth":4},
 "encoding":{"x":{"field":"me","type":"quantitative"},"y":{"field":"fit","type":"quantitative"},"color":{"field":"bear","type":"nominal","legend":null}}}
]
},
{
"width":262,"height":599,
"data":{"name":"legend"},
"layer":[
{"mark":{"type":"rect","color":"#E5E5E5"},
 "encoding":{
  "y":{"field":"bear","type":"nominal","scale":{"type":"band","domain":["Bear ID","Juno","Aurora","Nikita","Humphrey","Hudson"],"range":[201,399],"paddingInner":0,"paddingOuter":0},"axis":null},
  "x":{"datum":0,"type":"quantitative","scale":{"domain":[0,262],"nice":false,"zero":false},"axis":null},
  "x2":{"datum":44}}},
{"mark":{"type":"rule","strokeWidth":4},
 "encoding":{"y":{"field":"bear","type":"nominal"},"x":{"datum":5,"type":"quantitative"},"x2":{"datum":40},
  "color":{"field":"bear","type":"nominal","scale":{"domain":["Juno","Aurora","Nikita","Humphrey","Hudson"],"range":["#5BBCD6","#D04B35","#E08A2B","#F2AD00","#00A08A"]},"legend":null}}},
{"mark":{"type":"text","fontSize":25,"align":"left","baseline":"alphabetic","dy":10,"color":"#000000"},
 "encoding":{"y":{"field":"bear","type":"nominal"},"x":{"datum":59,"type":"quantitative"},"text":{"field":"bear"}}},
{"transform":[{"filter":"datum.bear == 'Juno'"}],"mark":{"type":"text","fontSize":18.5,"align":"left","baseline":"alphabetic","dy":10,"color":"#000000"},
 "encoding":{"y":{"field":"bear","type":"nominal"},"x":{"datum":126,"type":"quantitative"},"text":{"field":"age"}}},
{"transform":[{"filter":"datum.bear == 'Aurora'"}],"mark":{"type":"text","fontSize":18.5,"align":"left","baseline":"alphabetic","dy":10,"color":"#000000"},
 "encoding":{"y":{"field":"bear","type":"nominal"},"x":{"datum":145,"type":"quantitative"},"text":{"field":"age"}}},
{"transform":[{"filter":"datum.bear == 'Nikita'"}],"mark":{"type":"text","fontSize":18.5,"align":"left","baseline":"alphabetic","dy":10,"color":"#000000"},
 "encoding":{"y":{"field":"bear","type":"nominal"},"x":{"datum":135,"type":"quantitative"},"text":{"field":"age"}}},
{"transform":[{"filter":"datum.bear == 'Humphrey'"}],"mark":{"type":"text","fontSize":18.5,"align":"left","baseline":"alphabetic","dy":10,"color":"#000000"},
 "encoding":{"y":{"field":"bear","type":"nominal"},"x":{"datum":189,"type":"quantitative"},"text":{"field":"age"}}},
{"transform":[{"filter":"datum.bear == 'Hudson'"}],"mark":{"type":"text","fontSize":18.5,"align":"left","baseline":"alphabetic","dy":10,"color":"#000000"},
 "encoding":{"y":{"field":"bear","type":"nominal"},"x":{"datum":160,"type":"quantitative"},"text":{"field":"age"}}},
{"data":{"values":[{"bear":"Bear ID"}]},
 "mark":{"type":"text","fontSize":30,"align":"left","baseline":"alphabetic","dy":8,"color":"#000000"},
 "encoding":{"y":{"field":"bear","type":"nominal"},"x":{"datum":1,"type":"quantitative"},"text":{"field":"bear"}}}
]
}
]
}
